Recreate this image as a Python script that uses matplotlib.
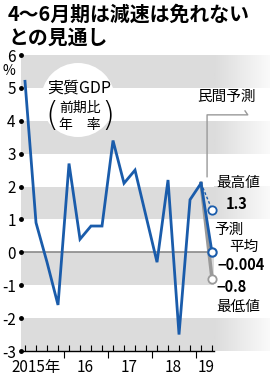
import numpy as np
import matplotlib
matplotlib.use('Agg')
import matplotlib.pyplot as plt
from matplotlib.patches import Ellipse

plt.rcParams['font.family'] = ['Noto Sans CJK JP', 'DejaVu Sans']

# data: quarterly real GDP growth (annualised, %), 2015 Q1 - 2019 Q1
gdp = [5.2, 0.9, -0.3, -1.6, 2.7, 0.4, 0.8, 0.8, 3.4, 2.1, 2.5, 1.1,
       -0.3, 2.2, -2.5, 1.6, 2.1]
forecast_labels = ['最高値', '平均', '最低値']
forecast_values = [1.3, -0.004, -0.8]
year_labels = ['2015年', '16', '17', '18', '19']
year_label_pos = [1.0, 5.5, 9.5, 13.5, 16.5]
year_bounds = [3.5, 7.5, 11.5, 15.5]
yticks = [6, 5, 4, 3, 2, 1, 0, -1, -2, -3]
bands = [(5, 6), (3, 4), (1, 2), (-1, 0), (-3, -2)]

BLUE = '#1a5cab'
GRAY = '#9a9a9a'
BAND = '#dcdcdc'
W, H = 270, 380


def px(x, y):
    return x / W, 1 - y / H


fig = plt.figure(figsize=(2.7, 3.8), dpi=100)
ax = fig.add_axes([20.5 / W, 1 - 351 / H, (214 - 20.5) / W, (351 - 55) / H])
xmin, xmax = -0.41, 17.18
ax.set_xlim(xmin, xmax)
ax.set_ylim(-3, 6)

# background bands, fading out to the right beyond the axes
grad = np.linspace(0, 1, 50)[None, :]
cmap = matplotlib.colors.LinearSegmentedColormap.from_list('fade', [BAND, '#ffffff'])
for y0, y1 in bands:
    ax.axhspan(y0, y1, color=BAND, zorder=0, lw=0)
    if y0 != -1:
        ax.imshow(grad, extent=(xmax, xmax + 5.2, y0, y1), aspect='auto',
                  cmap=cmap, zorder=0, clip_on=False, vmin=0, vmax=1.15)
ax.set_xlim(xmin, xmax)
ax.set_ylim(-3, 6)

ax.axhline(0, color='#8a8a8a', lw=1.2, zorder=1)

x = np.arange(len(gdp))
ax.plot(x, gdp, color=BLUE, lw=2, zorder=3, solid_joinstyle='miter')

# forecasts for 2019 Q2
xf = len(gdp)
last = gdp[-1]
ax.plot([xf - 1, xf], [last, forecast_values[2]], color=GRAY, lw=2.5, zorder=2)
ax.plot([xf - 1, xf], [last, forecast_values[0]], color=BLUE, lw=1, ls=(0, (2, 1.5)), zorder=3)
ax.plot([xf - 1, xf], [last, forecast_values[1]], color=BLUE, lw=2, zorder=3)
ax.plot([xf], [forecast_values[0]], 'o', ms=6, mfc='white', mec=BLUE, mew=1.3, zorder=4, clip_on=False)
ax.plot([xf], [forecast_values[1]], 'o', ms=6, mfc='white', mec=BLUE, mew=1.5, zorder=4, clip_on=False)
ax.plot([xf], [forecast_values[2]], 'o', ms=6, mfc='white', mec=GRAY, mew=1.3, zorder=4, clip_on=False)

# "民間予測" bracket
bx = 16.55
ax.plot([bx, bx, 20.25, 20.0], [2.3, 4.18, 4.18, 4.3], color='#999999', lw=1,
        clip_on=False, zorder=2)

# axes styling
for s in ['left', 'right', 'top']:
    ax.spines[s].set_visible(False)
ax.spines['bottom'].set_linewidth(1)
ax.set_yticks(yticks)
ax.set_yticklabels([str(v) if v >= 0 else '-' + str(-v) for v in yticks], fontsize=11)
ax.tick_params(axis='y', length=0, pad=3.5)
ax.plot([xmin] * len(yticks), yticks, 'o', ms=2.5, color='black', clip_on=False, zorder=5)

ax.set_xticks(year_bounds)
ax.set_xticklabels([])
ax.set_xticks(x.tolist() + [xf], minor=True)
ax.tick_params(axis='x', which='major', direction='out', length=5, width=0.8)
ax.tick_params(axis='x', which='minor', direction='in', length=4, width=0.8)
for lab, pos in zip(year_labels, year_label_pos):
    ax.text(pos, -3.25, lab, ha='center', va='top', fontsize=11)

# title
fig.text(*px(8, 14), '4〜6月期は減速は免れない', fontsize=14.3, fontweight='bold',
         va='center', ha='left')
fig.text(*px(8, 37), 'との見通し', fontsize=14.3, fontweight='bold', va='center', ha='left')
fig.text(*px(9, 71), '%', fontsize=10, ha='center', va='center')

# label circle
fig.patches.append(Ellipse(px(78, 100), 74 / W, 74 / H, transform=fig.transFigure,
                           facecolor='white', edgecolor='none', zorder=1))
fig.text(*px(79, 88), '実質GDP', fontsize=11.5, ha='center', va='center', zorder=5)
fig.text(*px(80, 108), '前期比', fontsize=10, ha='center', va='center', zorder=5)
fig.text(*px(80, 125), '年　率', fontsize=10, ha='center', va='center', zorder=5)
fig.text(*px(52, 116), '(', fontsize=24, ha='center', va='center', zorder=5,
         fontweight='light', family=['DejaVu Sans'])
fig.text(*px(108, 116), ')', fontsize=24, ha='center', va='center', zorder=5,
         fontweight='light', family=['DejaVu Sans'])

# right-side annotations
fig.text(*px(227, 97), '民間予測', fontsize=10.5, ha='center', va='center')
fig.text(*px(238, 183), forecast_labels[0], fontsize=10.5, ha='center', va='center')
fig.text(*px(237, 204), f'{forecast_values[0]:.1f}', fontsize=10.5, fontweight='bold',
         ha='center', va='center')
fig.text(*px(229, 230), '予測', fontsize=10.5, ha='center', va='center')
fig.text(*px(244, 247), forecast_labels[1], fontsize=10.5, ha='center', va='center')
fig.text(*px(241, 265), '−0.004', fontsize=10.5, fontweight='bold', ha='center', va='center')
fig.text(*px(232, 287), '−0.8', fontsize=10.5, fontweight='bold', ha='center', va='center')
fig.text(*px(238, 307), forecast_labels[2], fontsize=10.5, ha='center', va='center')

fig.savefig('out.png', dpi=100)
